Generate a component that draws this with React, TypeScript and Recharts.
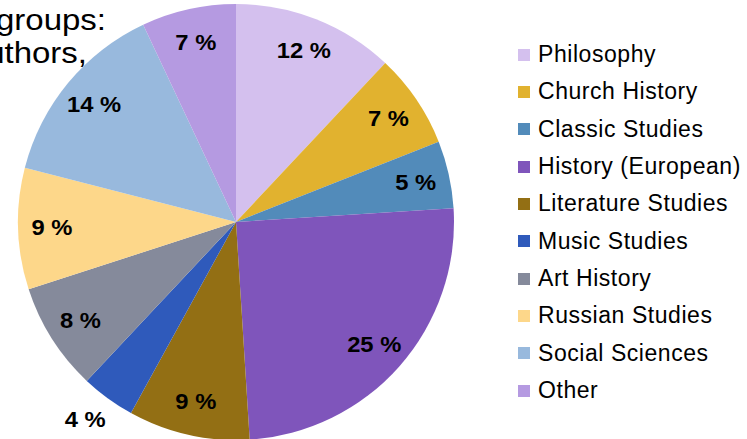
import React from "react";
import { PieChart, Pie, Cell, Legend } from "recharts";

const categories = [
  "Philosophy",
  "Church History",
  "Classic Studies",
  "History (European)",
  "Literature Studies",
  "Music Studies",
  "Art History",
  "Russian Studies",
  "Social Sciences",
  "Other",
];
const shares = [12, 7, 5, 25, 9, 4, 8, 9, 14, 7];
const colors = [
  "#D4C0EE",
  "#E1B22F",
  "#528BBA",
  "#7F55BB",
  "#936F14",
  "#2F5ABB",
  "#858A9B",
  "#FDD78A",
  "#98B9DD",
  "#B59AE1",
];
const titleLines = ["groups:", "authors,"];

const data = categories.map((name, i) => ({ name, value: shares[i] }));
const RAD = Math.PI / 180;
const FONT = "'Liberation Sans', Arial, sans-serif";

const renderLabel = (props: any) => {
  const { cx, cy, midAngle, outerRadius, value } = props;
  const outside = value < 5;
  const f = outside ? 1.13 : 0.845;
  const r = outerRadius * f;
  const x = cx + r * Math.cos(-midAngle * RAD) - (outside ? 6 : 0);
  const y = cy + r * Math.sin(-midAngle * RAD) - (outside ? 2 : 0);
  return (
    <text
      transform={`translate(${x},${y}) scale(1.08,1)`}
      x={0}
      y={0}
      textAnchor="middle"
      dominantBaseline="central"
      fontFamily={FONT}
      fontWeight="bold"
      fontSize={22}
      fill="#000"
    >
      {`${value} %`}
    </text>
  );
};

const renderLegend = () => (
  <div style={{ fontFamily: FONT, fontSize: 23, color: "#000" }}>
    {categories.map((c, i) => (
      <div
        key={c}
        style={{ height: 37.33, display: "flex", alignItems: "center", whiteSpace: "nowrap" }}
      >
        <span
          style={{
            display: "inline-block",
            width: 12,
            height: 12,
            background: colors[i],
            marginRight: 8,
          }}
        />
        <span style={{ letterSpacing: 0.55 }}>{c}</span>
      </div>
    ))}
  </div>
);

export default function App() {
  return (
    <div style={{ position: "absolute", left: 0, top: 0, width: 747, height: 439, background: "#fff" }}>
      <PieChart width={747} height={439} margin={{ top: 0, right: 0, bottom: 0, left: 0 }}>
        <text
          transform="translate(106,30) scale(1.1,1)"
          textAnchor="end"
          fontFamily={FONT}
          fontSize={30}
          fill="#000"
        >
          {titleLines[0]}
        </text>
        <text
          transform="translate(87,63) scale(1.1,1)"
          textAnchor="end"
          fontFamily={FONT}
          fontSize={30}
          fill="#000"
        >
          {titleLines[1]}
        </text>
        <Pie
          data={data}
          dataKey="value"
          nameKey="name"
          cx={236}
          cy={222}
          outerRadius={218}
          startAngle={90}
          endAngle={-270}
          stroke="none"
          labelLine={false}
          label={renderLabel}
          isAnimationActive={false}
        >
          {data.map((d, i) => (
            <Cell key={d.name} fill={colors[i]} />
          ))}
        </Pie>
        <Legend
          layout="vertical"
          content={renderLegend}
          wrapperStyle={{ left: 518, top: 36, width: 229 }}
        />
      </PieChart>
    </div>
  );
}
